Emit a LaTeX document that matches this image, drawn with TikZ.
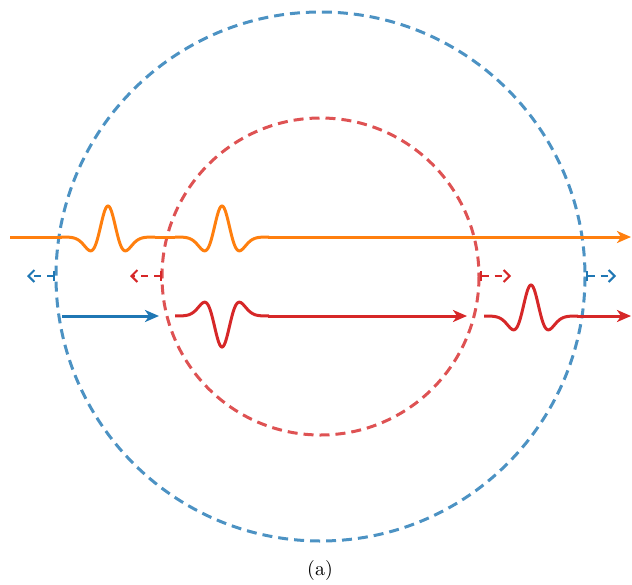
\documentclass[tikz,border=0pt]{standalone}
\usetikzlibrary{arrows.meta}
\definecolor{tabblue}{HTML}{1F77B4}
\definecolor{taborange}{HTML}{FF7F0E}
\definecolor{tabred}{HTML}{D62728}
\begin{document}
\begin{tikzpicture}[
  % one unit is one pixel of the 632 x 584 frame, y runs downwards
  x=0.5pt, y=-0.5pt,
  wv/.style={line width=1.5pt},
  ar/.style={wv, -{Stealth[length=7pt, width=6pt, inset=2pt]}},
  ring/.style={line width=1.5pt, dash pattern=on 5pt off 3pt, opacity=0.8},
  esc/.style={line width=1pt, dash pattern=on 3.5pt off 3pt,
    {Bar[width=5pt]}-{Straight Barb[length=3pt, width=6pt]}},
  % ricker pulse, #1 = height of the central lobe (negative: upside down)
  packet/.pic={\draw[wv] plot[domain=-47:47, samples=121, smooth]
    (\x, {-(#1)*(1-(\x/10)^2)*exp(-0.5*(\x/10)^2)});},
]
\useasboundingbox (0,0) rectangle (632,584);
% the two boundaries
\coordinate (c) at (320.5,276.5);
\draw[ring, tabblue] (c) circle[radius=264.5];
\draw[ring, tabred] (c) circle[radius=158.5];
% upper ray, orange
\coordinate (o0) at (10,237);   \coordinate (o1) at (62,237);
\coordinate (o2) at (155,237);  \coordinate (o3) at (175,237);
\coordinate (o4) at (268,237);  \coordinate (o5) at (631,237);
\draw[wv, taborange] (o0) -- (o1);
\pic[color=taborange] at (108,237) {packet=31};
\draw[wv, taborange] (o2) -- (o3);
\pic[color=taborange] at (222,237) {packet=31};
\draw[ar, taborange] (o4) -- (o5);
% lower ray, blue then red
\coordinate (b0) at (62,316);   \coordinate (b1) at (159,316);
\draw[ar, tabblue] (b0) -- (b1);
\pic[color=tabred] at (222,316) {packet=-31};
\coordinate (r0) at (268,316);  \coordinate (r1) at (467,316);
\draw[ar, tabred] (r0) -- (r1);
\pic[color=tabred] at (531,316) {packet=31};
\coordinate (r2) at (577,316);  \coordinate (r3) at (631,316);
\draw[ar, tabred] (r2) -- (r3);
% leaking parts
\coordinate (e1) at (55,276);  \coordinate (f1) at (27,276);
\coordinate (e2) at (162,276); \coordinate (f2) at (130,276);
\coordinate (e3) at (480,276); \coordinate (f3) at (511,276);
\coordinate (e4) at (586,276); \coordinate (f4) at (616,276);
\draw[esc, tabblue] (e1) -- (f1);
\draw[esc, tabred] (e2) -- (f2);
\draw[esc, tabred] (e3) -- (f3);
\draw[esc, tabblue] (e4) -- (f4);
\node (cap) at (320,570) {(a)};
\end{tikzpicture}
\end{document}
